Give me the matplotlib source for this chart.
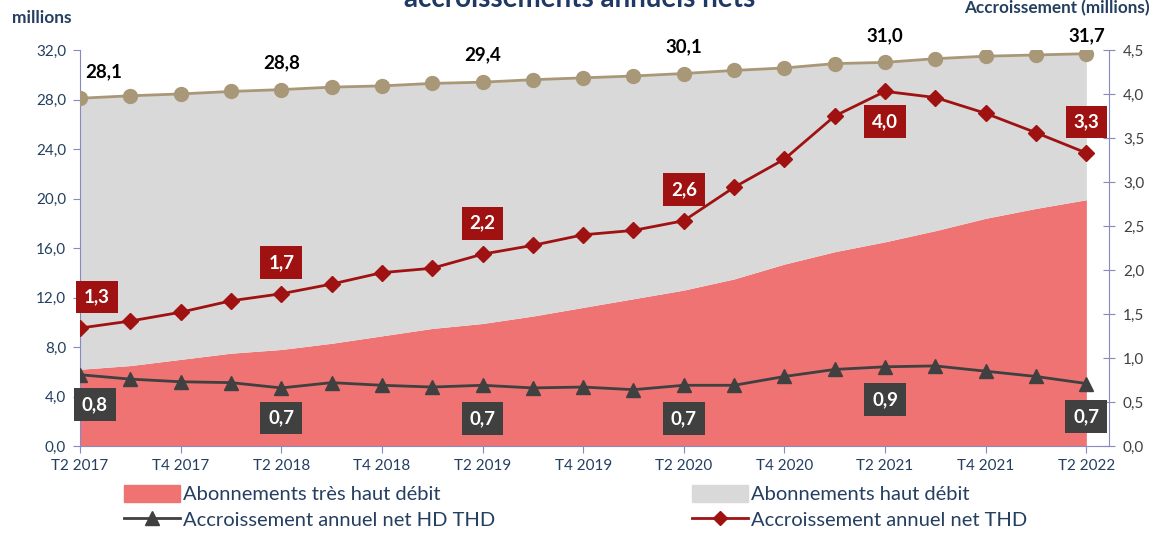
import matplotlib
matplotlib.use("Agg")
import matplotlib.pyplot as plt
from matplotlib.patches import Patch
from matplotlib.lines import Line2D
from matplotlib.ticker import FuncFormatter

plt.rcParams["font.family"] = ["Lato", "DejaVu Sans"]

# données (millions)
quarters = ["T2 2017", "T3 2017", "T4 2017", "T1 2018", "T2 2018", "T3 2018", "T4 2018",
            "T1 2019", "T2 2019", "T3 2019", "T4 2019", "T1 2020", "T2 2020", "T3 2020",
            "T4 2020", "T1 2021", "T2 2021", "T3 2021", "T4 2021", "T1 2022", "T2 2022"]
total_hd_thd = [28.1, 28.3, 28.45, 28.65, 28.8, 29.0, 29.1, 29.3, 29.4, 29.6, 29.75,
                29.9, 30.1, 30.35, 30.55, 30.9, 31.0, 31.3, 31.5, 31.6, 31.7]
abo_thd = [6.2, 6.5, 7.0, 7.5, 7.8, 8.3, 8.9, 9.5, 9.9, 10.5, 11.2,
           11.9, 12.6, 13.5, 14.7, 15.7, 16.5, 17.4, 18.4, 19.2, 19.9]
acc_thd = [1.34, 1.42, 1.52, 1.65, 1.73, 1.84, 1.97, 2.02, 2.18, 2.28, 2.40,
           2.45, 2.56, 2.94, 3.26, 3.75, 4.03, 3.96, 3.78, 3.56, 3.33]
acc_hd_thd = [0.81, 0.76, 0.73, 0.72, 0.66, 0.72, 0.69, 0.67, 0.69, 0.66, 0.67,
              0.64, 0.69, 0.69, 0.79, 0.87, 0.90, 0.91, 0.85, 0.79, 0.71]
label_idx = [0, 4, 8, 12, 16, 20]

navy = "#243F60"
spine_c = "#8888C4"
red_area = "#EF7373"
grey_area = "#D9D9D9"
beige = "#A99878"
dark_red = "#A01212"
dark = "#404040"

def virgule(v, pos=None):
    return f"{v:.1f}".replace(".", ",")

x = list(range(len(quarters)))

fig = plt.figure(figsize=(11.68, 5.36), dpi=100)
ax = fig.add_axes([80 / 1168, 1 - 446 / 536, (1109 - 80) / 1168, 396 / 536])
ax2 = ax.twinx()

# aires empilées
ax.fill_between(x, 0, abo_thd, color=red_area, lw=0, zorder=1)
ax.fill_between(x, abo_thd, total_hd_thd, color=grey_area, lw=0, zorder=1)
ax.plot(x, total_hd_thd, color=beige, lw=2, marker="o", ms=10, zorder=3)

ax2.plot(x, acc_thd, color=dark_red, lw=2, marker="D", ms=8.5, zorder=3)
ax2.plot(x, acc_hd_thd, color=dark, lw=2, marker="^", ms=10.5, zorder=3)

ax.set_xlim(0, 20.45)
ax.set_ylim(0, 32)
ax2.set_ylim(0, 4.5)
ax.set_yticks([0, 4, 8, 12, 16, 20, 24, 28, 32])
ax2.set_yticks([0, 0.5, 1, 1.5, 2, 2.5, 3, 3.5, 4, 4.5])
ax.yaxis.set_major_formatter(FuncFormatter(virgule))
ax2.yaxis.set_major_formatter(FuncFormatter(virgule))
ax.set_xticks(x[::2])
ax.set_xticklabels(quarters[::2])

for s in ["top", "right"]:
    ax.spines[s].set_visible(False)
for s in ["top", "left", "bottom"]:
    ax2.spines[s].set_visible(False)
for s in ["left", "bottom"]:
    ax.spines[s].set_color(spine_c)
ax2.spines["right"].set_color(spine_c)

ax.tick_params(axis="y", colors=spine_c, labelcolor=navy, labelsize=11, length=5, pad=5)
ax.tick_params(axis="x", colors=spine_c, labelcolor=navy, labelsize=11, length=5, pad=4)
ax2.tick_params(axis="y", colors=spine_c, labelcolor=dark, labelsize=11, length=8,
                direction="inout", pad=6)

# étiquettes des valeurs
for i in label_idx:
    dx = 24 if i == 0 else 0
    dy = 18 if i == 20 else 27
    ax.annotate(virgule(total_hd_thd[i]), (i, total_hd_thd[i]), xytext=(dx, dy),
                textcoords="offset pixels", ha="center", va="center",
                fontsize=13.5, fontweight="bold", color="black", zorder=5)

    dx = 17 if i == 0 else 0
    dy = -30 if i == 16 else 31
    ax2.annotate(virgule(acc_thd[i]), (i, acc_thd[i]), xytext=(dx, dy),
                 textcoords="offset pixels", ha="center", va="center",
                 fontsize=13.5, fontweight="bold", color="white", zorder=6,
                 bbox=dict(boxstyle="square,pad=0.42", fc=dark_red, ec="none"))

    dx = 15 if i == 0 else 0
    dy = -30 if i in (0, 4) else -33
    ax2.annotate(virgule(acc_hd_thd[i]), (i, acc_hd_thd[i]), xytext=(dx, dy),
                 textcoords="offset pixels", ha="center", va="center",
                 fontsize=13.5, fontweight="bold", color="white", zorder=6,
                 bbox=dict(boxstyle="square,pad=0.42", fc=dark, ec="none"))

# textes
fig.text(12 / 1168, 1 - 18 / 536, "millions", fontsize=12.5, fontweight="bold",
         color=navy, va="center", ha="left")
fig.text(1150 / 1168, 1 - 8 / 536, "Accroissement (millions)", fontsize=12.3,
         fontweight="bold", color=navy, va="center", ha="right")
fig.text(580 / 1168, 1 - 7 / 536, "accroissements annuels nets", fontsize=20,
         fontweight="bold", color="#1F3864", va="baseline", ha="center")

# légende
h1 = [Patch(color=red_area, label="Abonnements très haut débit"),
      Line2D([], [], color=dark, lw=2, marker="^", ms=10, label="Accroissement annuel net HD THD")]
h2 = [Patch(color=grey_area, label="Abonnements haut débit"),
      Line2D([], [], color=dark_red, lw=2, marker="D", ms=7, label="Accroissement annuel net THD")]
for hs, xpos in [(h1, 124), (h2, 692)]:
    fig.legend(handles=hs, loc="upper left", bbox_to_anchor=(xpos / 1168, 1 - 485 / 536),
               frameon=False, fontsize=14.5, handlelength=2.8, handleheight=0.9,
               handletextpad=0.15, labelspacing=0.35, borderpad=0, borderaxespad=0,
               labelcolor=navy)

fig.savefig("out.png", dpi=100)
